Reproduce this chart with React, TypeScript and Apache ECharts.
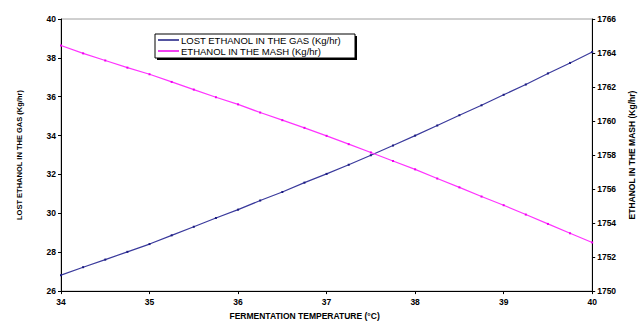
import React, { useEffect, useRef } from "react";
import * as echarts from "echarts";

const temperatures = [34, 34.25, 34.5, 34.75, 35, 35.25, 35.5, 35.75, 36, 36.25, 36.5, 36.75, 37, 37.25, 37.5, 37.75, 38, 38.25, 38.5, 38.75, 39, 39.25, 39.5, 39.75, 40];
const lostEthanolGas = [26.82, 27.23, 27.62, 28.02, 28.42, 28.87, 29.31, 29.76, 30.19, 30.66, 31.1, 31.58, 32.03, 32.5, 32.99, 33.49, 34.0, 34.52, 35.05, 35.56, 36.1, 36.63, 37.2, 37.74, 38.3];
const ethanolMash = [1764.44, 1763.98, 1763.56, 1763.14, 1762.75, 1762.3, 1761.85, 1761.4, 1760.98, 1760.5, 1760.05, 1759.6, 1759.13, 1758.64, 1758.15, 1757.65, 1757.16, 1756.62, 1756.1, 1755.56, 1755.05, 1754.5, 1753.95, 1753.4, 1752.86];

const seriesNames = ["LOST ETHANOL IN THE GAS (Kg/hr)", "ETHANOL IN THE MASH (Kg/hr)"];
const xAxisName = "FERMENTATION TEMPERATURE (°C)";
const leftAxisName = "LOST ETHANOL IN THE GAS (Kg/hr)";
const rightAxisName = "ETHANOL IN THE MASH (Kg/hr)";

const FONT = "'Liberation Sans', Arial, sans-serif";

export default function App() {
  const ref = useRef<HTMLDivElement>(null);
  useEffect(() => {
    if (!ref.current) return;
    const chart = echarts.init(ref.current, undefined, { renderer: "svg" });
    const labelStyle = { fontFamily: FONT, fontSize: 8.5, fontWeight: "bold" as const, color: "#000" };
    chart.setOption({
      animation: false,
      backgroundColor: "#fff",
      grid: { left: 61, right: 47, top: 19, bottom: 29, show: true, borderColor: "#a0a0a0", borderWidth: 1, backgroundColor: "transparent" },
      graphic: [
        { type: "rect", shape: { x: 157, y: 36, width: 200, height: 24 }, style: { fill: "#000" }, z: 0 },
        { type: "rect", shape: { x: 155, y: 34, width: 200, height: 24 }, style: { fill: "#fff", stroke: "#000", lineWidth: 1 }, z: 1 },
      ],
      legend: {
        left: 156,
        top: 35,
        orient: "vertical",
        itemGap: 1,
        itemWidth: 21,
        itemHeight: 1.5,
        icon: "rect",
        padding: [0, 0, 0, 2],
        textStyle: { fontFamily: FONT, fontSize: 9.5, color: "#000", padding: [0, 0, 0, -3] },
        data: seriesNames,
        z: 5,
      },
      xAxis: {
        type: "value",
        min: 34,
        max: 40,
        interval: 1,
        name: xAxisName,
        nameLocation: "middle",
        nameGap: 19,
        nameTextStyle: { ...labelStyle, fontSize: 8.5, padding: [0, 44, 0, 0] },
        axisLine: { lineStyle: { color: "#000", width: 1 } },
        axisTick: { show: true, length: 3, lineStyle: { color: "#000" } },
        axisLabel: { ...labelStyle, margin: 6 },
        splitLine: { show: false },
      },
      yAxis: [
        {
          type: "value",
          min: 26,
          max: 40,
          interval: 2,
          position: "left",
          name: leftAxisName,
          nameLocation: "middle",
          nameRotate: 90,
          nameGap: 38,
          nameTextStyle: { ...labelStyle, fontSize: 7.5 },
          axisLine: { show: true, lineStyle: { color: "#000", width: 1 } },
          axisTick: { show: true, length: 3, lineStyle: { color: "#000" } },
          axisLabel: { ...labelStyle, margin: 5 },
          splitLine: { show: false },
        },
        {
          type: "value",
          min: 1750,
          max: 1766,
          interval: 2,
          position: "right",
          name: rightAxisName,
          nameLocation: "middle",
          nameRotate: 90,
          nameGap: 33,
          nameTextStyle: { ...labelStyle, fontSize: 8.5, padding: [0, 0, 0, 0] },
          axisLine: { show: true, lineStyle: { color: "#000", width: 1 } },
          axisTick: { show: true, length: 3, lineStyle: { color: "#000" } },
          axisLabel: { ...labelStyle, margin: 5, formatter: (v: number) => String(v) },
          splitLine: { show: false },
        },
      ],
      series: [
        {
          name: seriesNames[0],
          type: "line",
          yAxisIndex: 0,
          data: temperatures.map((t, i) => [t, lostEthanolGas[i]]),
          symbol: "rect",
          symbolSize: 2,
          showSymbol: true,
          lineStyle: { color: "#3a3a9c", width: 1.2 },
          itemStyle: { color: "#1a1a80" },
          z: 3,
        },
        {
          name: seriesNames[1],
          type: "line",
          yAxisIndex: 1,
          data: temperatures.map((t, i) => [t, ethanolMash[i]]),
          symbol: "rect",
          symbolSize: 2,
          showSymbol: true,
          lineStyle: { color: "#ff33ff", width: 1.2 },
          itemStyle: { color: "#ee00ee" },
          z: 3,
        },
      ],
    });
    return () => chart.dispose();
  }, []);
  return <div ref={ref} style={{ position: "fixed", left: 0, top: 0, width: 644, height: 325 }} />;
}
